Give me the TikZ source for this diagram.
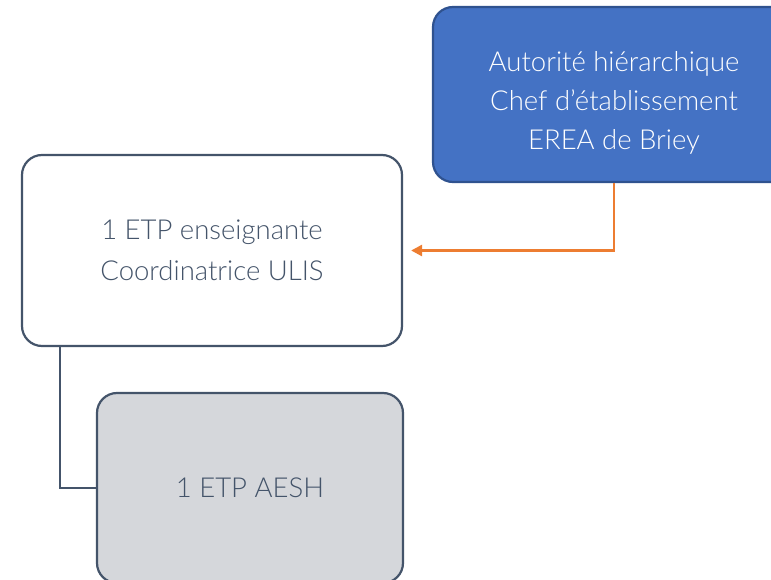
\documentclass[tikz,border=0pt]{standalone}
\usepackage{fontspec}
\setmainfont{Lato}[UprightFont=* Light]
\usetikzlibrary{arrows.meta}
\definecolor{boxblue}{HTML}{4472C4}
\definecolor{blueedge}{HTML}{2F528F}
\definecolor{slate}{HTML}{44546A}
\definecolor{greyfill}{HTML}{D5D7DB}
\definecolor{orangeline}{HTML}{ED7D31}
\begin{document}
\begin{tikzpicture}[x=1pt,y=-1pt,
  box/.style={rounded corners=20pt, line width=2.2pt, align=center, font=\fontsize{27.5}{40.5}\selectfont, inner sep=0pt},
  link/.style={line width=2.6pt, draw=slate}]
\useasboundingbox (0,0) rectangle (771,580);
\begin{scope}
\clip (0,0) rectangle (771,580);
\node[box, draw=blueedge, fill=boxblue, minimum width=362pt, minimum height=175pt] (chef) at (614,94.5) {};
\node[align=center, text=white, inner sep=0pt, font=\fontsize{27.5}{39}\selectfont] (cheftext) at ([yshift=-8pt]chef.center)
  {Autorité hiérarchique\\Chef d’établissement\\EREA de Briey};
\node[box, draw=slate, fill=white, text=slate, minimum width=380pt, minimum height=191pt] (ens) at (212,250.5)
  {1 ETP enseignante\\Coordinatrice ULIS};
\node[box, draw=slate, fill=greyfill, text=slate, minimum width=306pt, minimum height=190pt] (aesh) at (250,488)
  {1 ETP AESH};
\end{scope}
\coordinate (tip) at ([xshift=8pt]ens.east);
\draw[line width=2.6pt, draw=orangeline, -{Triangle[length=11pt,width=11pt]}] (chef.south) |- (tip);
\draw[link] ([xshift=-152pt]ens.south) |- (aesh.west);
\end{tikzpicture}
\end{document}
